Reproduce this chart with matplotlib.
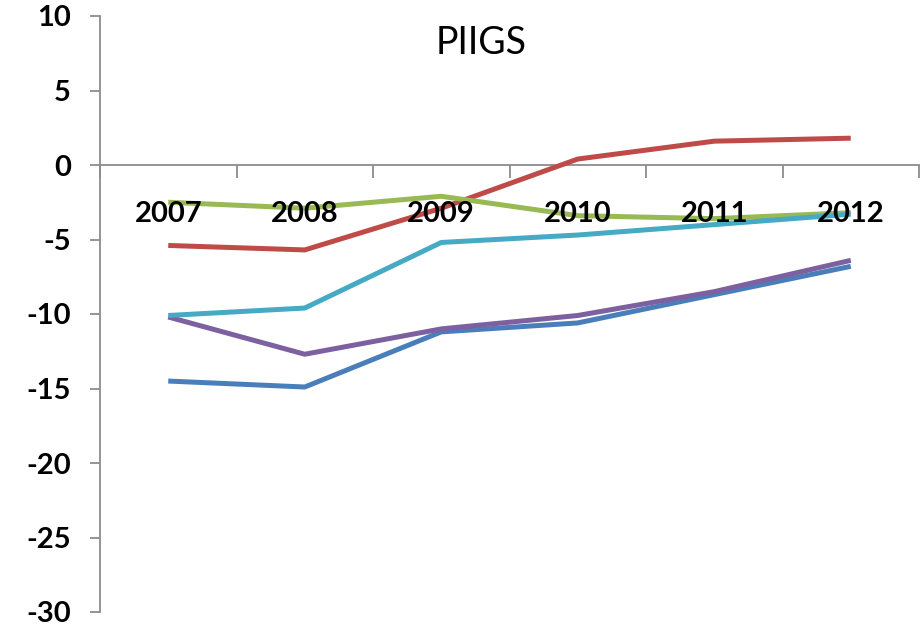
import matplotlib
matplotlib.use("Agg")
import matplotlib.pyplot as plt
from matplotlib.ticker import FixedLocator, NullFormatter

years = ["2007", "2008", "2009", "2010", "2011", "2012"]
greece = [-14.5, -14.9, -11.2, -10.6, -8.7, -6.8]
ireland = [-5.4, -5.7, -2.9, 0.4, 1.6, 1.8]
italy = [-2.5, -2.9, -2.1, -3.4, -3.6, -3.2]
portugal = [-10.2, -12.7, -11.0, -10.1, -8.5, -6.4]
spain = [-10.1, -9.6, -5.2, -4.7, -4.0, -3.3]

series = [greece, ireland, italy, portugal, spain]
colors = ["#4A7EBB", "#BE4B48", "#98B954", "#7D60A0", "#46AAC5"]

y_ticks = [10, 5, 0, -5, -10, -15, -20, -25, -30]

FONT = "Lato"

fig = plt.figure(figsize=(9.22, 6.3), dpi=100)
ax = fig.add_axes([100 / 922, 18 / 630, 819 / 922, (612 - 16) / 630])

x = list(range(len(years)))
for vals, c in zip(series, colors):
    ax.plot(x, vals, color=c, lw=3.6, solid_capstyle="butt", solid_joinstyle="round", zorder=3)

ax.set_xlim(-0.5, len(years) - 0.5)
ax.set_ylim(-30, 10)

for side in ("top", "right"):
    ax.spines[side].set_visible(False)
ax.spines["bottom"].set_position(("data", 0))
for side in ("left", "bottom"):
    ax.spines[side].set_color("#8C8C8C")
    ax.spines[side].set_linewidth(1.3)

ax.set_yticks(y_ticks)
ax.set_yticklabels([str(v) for v in y_ticks], fontfamily=FONT, fontweight="bold", fontsize=21)
ax.tick_params(axis="y", direction="out", length=7, width=1.3, color="#8C8C8C", pad=14)

# category boundaries carry the ticks, category centres carry the labels
ax.xaxis.set_major_locator(FixedLocator([i - 0.5 for i in range(len(years) + 1)]))
ax.xaxis.set_major_formatter(NullFormatter())
ax.xaxis.set_minor_locator(FixedLocator(x))
ax.set_xticklabels(years, minor=True, fontfamily=FONT, fontweight="bold", fontsize=21)
ax.tick_params(axis="x", which="major", direction="out", length=9, width=1.3, color="#8C8C8C")
ax.tick_params(axis="x", which="minor", length=0, pad=26)
for lbl in ax.get_xticklabels(minor=True):
    lbl.set_zorder(5)
ax.xaxis.set_zorder(4)

ax.text(0.465, 0.985, "PIIGS", transform=ax.transAxes, ha="center", va="top",
        fontfamily=FONT, fontsize=27, color="black")

fig.savefig("out.png", dpi=100)
